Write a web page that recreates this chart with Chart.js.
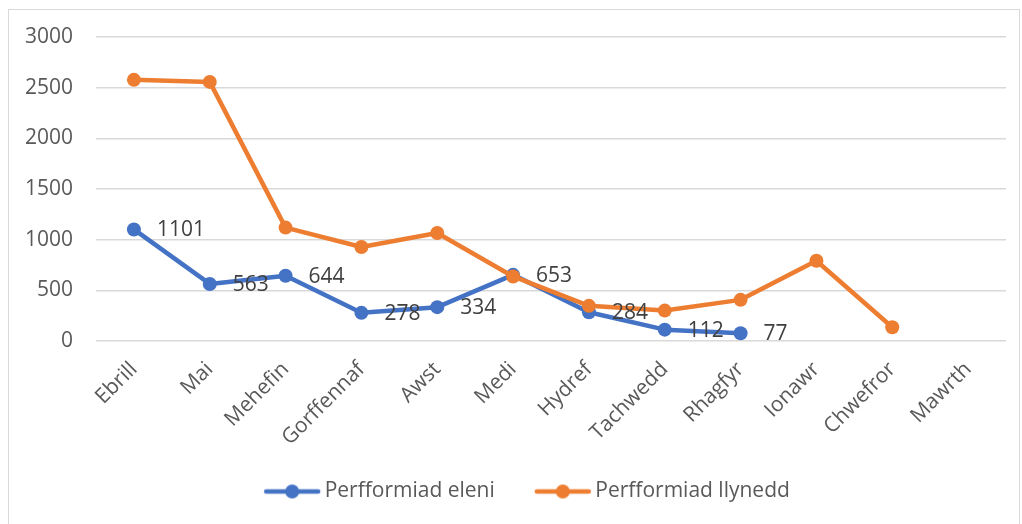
<!DOCTYPE html>
<html>
<head>
<meta charset="utf-8">
<script src="https://cdn.jsdelivr.net/npm/chart.js@4"></script>
<style>
  html, body { margin: 0; padding: 0; background: #fff; }
  #frame { position: absolute; left: 8px; top: 9px; width: 1012px; height: 520px; border: 1px solid #d9d9d9; box-sizing: border-box; }
  #wrap { position: absolute; left: 0; top: 0; width: 1022px; height: 524px; }
</style>
</head>
<body>
<div id="frame"></div>
<div id="wrap"><canvas id="chart" width="1022" height="524"></canvas></div>
<script>
const months = ['Ebrill', 'Mai', 'Mehefin', 'Gorffennaf', 'Awst', 'Medi', 'Hydref', 'Tachwedd', 'Rhagfyr', 'Ionawr', 'Chwefror', 'Mawrth'];
const thisYear = [1101, 563, 644, 278, 334, 653, 284, 112, 77, null, null, null];
const lastYear = [2577, 2557, 1119, 928, 1066, 637, 347, 300, 406, 792, 136, null];
const yTicks = [0, 500, 1000, 1500, 2000, 2500, 3000];

const blue = '#4472C4';
const orange = '#ED7D31';
const font = '"Open Sans", "Liberation Sans", sans-serif';

// line-with-dot swatch for the legend; blank space on the left acts as gap between items
function legendSwatch(color) {
    const c = document.createElement('canvas');
    c.width = 100;
    c.height = 16;
    const g = c.getContext('2d');
    g.strokeStyle = color;
    g.lineWidth = 4.5;
    g.lineCap = 'round';
    g.beginPath();
    g.moveTo(42, 8);
    g.lineTo(94, 8);
    g.stroke();
    g.fillStyle = color;
    g.beginPath();
    g.arc(68, 8, 7, 0, Math.PI * 2);
    g.fill();
    return c;
}

const valueLabels = {
    id: 'valueLabels',
    afterDatasetsDraw(chart) {
        const meta = chart.getDatasetMeta(0);
        const ctx = chart.ctx;
        ctx.save();
        ctx.font = '21px ' + font;
        ctx.fillStyle = '#404040';
        ctx.textAlign = 'left';
        ctx.textBaseline = 'middle';
        meta.data.forEach((pt, i) => {
            const v = thisYear[i];
            if (v === null || pt.skip) return;
            ctx.fillText(String(v), pt.x + 23, pt.y + 1);
        });
        ctx.restore();
    }
};

new Chart(document.getElementById('chart'), {
    type: 'line',
    data: {
        labels: months,
        datasets: [
            {
                label: 'Perfformiad eleni',
                data: thisYear,
                borderColor: blue,
                backgroundColor: blue,
                borderWidth: 4.5,
                pointRadius: 7,
                pointBorderWidth: 0,
                pointBackgroundColor: blue,
                order: 1
            },
            {
                label: 'Perfformiad llynedd',
                data: lastYear,
                borderColor: orange,
                backgroundColor: orange,
                borderWidth: 4.5,
                pointRadius: 7,
                pointBorderWidth: 0,
                pointBackgroundColor: orange,
                order: 0
            }
        ]
    },
    options: {
        responsive: false,
        animation: false,
        spanGaps: false,
        layout: { padding: { left: 18, right: 16, top: 37, bottom: 12 } },
        elements: {
            line: { tension: 0, borderJoinStyle: 'round', borderCapStyle: 'round' },
            point: { pointStyle: 'circle' }
        },
        plugins: {
            tooltip: { enabled: false },
            legend: {
                position: 'bottom',
                labels: {
                    usePointStyle: true,
                    pointStyleWidth: 80,
                    padding: 10,
                    color: '#595959',
                    font: { family: font, size: 21 },
                    generateLabels(chart) {
                        return chart.data.datasets.map((ds, i) => ({
                            text: ds.label,
                            datasetIndex: i,
                            pointStyle: legendSwatch(ds.borderColor),
                            fillStyle: ds.borderColor,
                            strokeStyle: ds.borderColor,
                            lineWidth: 0,
                            fontColor: '#595959',
                            hidden: false
                        }));
                    }
                }
            }
        },
        scales: {
            x: {
                offset: true,
                grid: { display: false },
                border: { display: false },
                ticks: {
                    color: '#595959',
                    font: { family: font, size: 21 },
                    minRotation: 45,
                    maxRotation: 45,
                    autoSkip: false,
                    padding: 8
                },
                afterFit(scale) { scale.height = 130; }
            },
            y: {
                min: 0,
                max: 3000,
                afterBuildTicks(scale) { scale.ticks = yTicks.map(v => ({ value: v })); },
                grid: { color: '#d9d9d9', lineWidth: 1.5, drawTicks: false },
                border: { display: false },
                ticks: {
                    color: '#595959',
                    font: { family: font, size: 21 },
                    padding: 23,
                    callback: v => String(v)
                },
                afterFit(scale) { scale.width = 78; }
            }
        }
    },
    plugins: [valueLabels]
});
</script>
</body>
</html>
